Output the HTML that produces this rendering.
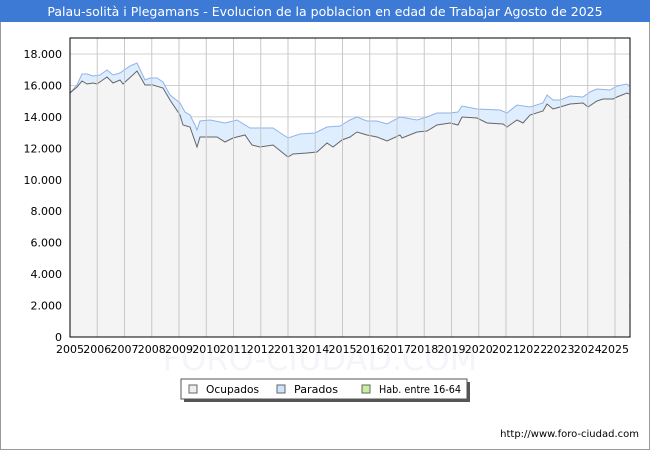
<!DOCTYPE html>
<html><head><meta charset="utf-8"><style>
body{margin:0;background:#fff}
svg{display:block;font-family:"DejaVu Sans","Liberation Sans",sans-serif}
</style></head><body>
<svg width="650" height="450" viewBox="0 0 650 450">
<rect x="0.5" y="0.5" width="649" height="449" fill="#fff" stroke="#999"/>
<rect x="0" y="0" width="650" height="22" fill="#3d7ad6"/>
<text x="325" y="16" text-anchor="middle" fill="#fff" font-size="12.5">Palau-solità i Plegamans - Evolucion de la poblacion en edad de Trabajar Agosto de 2025</text>
<text x="320" y="370" text-anchor="middle" fill="#f4f5fa" font-size="32">FORO-CIUDAD.COM</text>
<g id="grid" stroke="#d0d0d0" stroke-width="1"></g>
<polygon id="occ" fill="#f4f4f4"/>
<polygon id="par" fill="#dfeeff"/>
<polyline id="top" fill="none" stroke="#8fb3ea" stroke-width="1"/>
<polyline id="bot" fill="none" stroke="#666" stroke-width="1"/>
<g id="vg" stroke="#c8c8c8"></g>
<rect x="70" y="38" width="560" height="299" fill="none" stroke="#000"/>
<g id="yl" font-size="11" text-anchor="end"></g>
<g id="xl" font-size="11" text-anchor="middle"></g>
<rect x="184" y="382" width="286" height="20" fill="#555"/>
<rect x="181" y="379" width="286" height="20" fill="#fff" stroke="#555"/>
<rect x="189" y="385" width="8" height="8" fill="#eee" stroke="#666"/>
<text x="206" y="393" font-size="10.5" textLength="53" lengthAdjust="spacingAndGlyphs">Ocupados</text>
<rect x="277" y="385" width="8" height="8" fill="#cfe3ff" stroke="#666"/>
<text x="294" y="393" font-size="10.5" textLength="44" lengthAdjust="spacingAndGlyphs">Parados</text>
<rect x="362" y="385" width="8" height="8" fill="#c6f0a0" stroke="#666"/>
<text x="379" y="393" font-size="10.5" textLength="82" lengthAdjust="spacingAndGlyphs">Hab. entre 16-64</text>
<text x="639" y="437" text-anchor="end" font-size="10">http://www.foro-ciudad.com</text>
</svg>
<script>
var B=[[70,93],[77,87],[82,81],[87,84],[93,83],[97,84],[107,77],[113,83],[120,80],[123,84],[137,71],[145,85],[153,85],[163,88],[170,100],[180,115],[183,125],[190,127],[197,147],[200,137],[217,137],[225,142],[233,138],[245,135],[252,145],[260,147],[273,145],[288,157],[293,154],[307,153],[317,152],[327,143],[333,147],[342,140],[350,137],[357,132],[367,135],[377,137],[387,141],[400,135],[402,138],[417,132],[427,131],[437,125],[450,123],[458,125],[462,117],[477,118],[487,123],[503,124],[507,127],[517,120],[523,123],[530,115],[543,111],[547,104],[553,109],[560,107],[570,104],[583,103],[588,107],[597,101],[603,99],[613,99],[617,97],[627,93],[629,94]];
var T=[[70,93],[77,85],[82,74],[87,74],[93,76],[100,75],[107,70],[113,75],[120,73],[130,66],[137,63],[145,80],[150,78],[157,78],[163,82],[170,95],[180,103],[185,112],[190,115],[195,125],[197,130],[200,121],[210,120],[225,123],[237,120],[250,128],[260,128],[273,128],[288,138],[300,134],[315,133],[327,127],[340,126],[350,120],[357,117],[367,121],[377,121],[387,124],[400,117],[417,120],[427,117],[437,113],[450,113],[458,112],[462,106],[477,109],[500,110],[507,113],[517,105],[530,107],[543,103],[547,95],[553,100],[560,100],[570,96],[583,97],[590,92],[597,89],[610,90],[617,86],[627,84],[629,86]];
function s(a){return a.map(function(p){return p[0]+","+p[1]}).join(" ")}
document.getElementById('occ').setAttribute('points',s(B)+" 629,337 70,337");
document.getElementById('par').setAttribute('points',s(T)+" "+s(B.slice().reverse()));
document.getElementById('top').setAttribute('points',s(T));
document.getElementById('bot').setAttribute('points',s(B));
var ns="http://www.w3.org/2000/svg",g=document.getElementById('grid'),vg=document.getElementById('vg'),yl=document.getElementById('yl'),xl=document.getElementById('xl');
for(var i=0;i<=9;i++){var y=337-i*2000*283/18000;
 if(i>0){var l=document.createElementNS(ns,'line');l.setAttribute('x1',70);l.setAttribute('x2',630);l.setAttribute('y1',y);l.setAttribute('y2',y);g.appendChild(l);}
 var t=document.createElementNS(ns,'text');t.setAttribute('x',62);t.setAttribute('y',y+4);t.textContent=i==0?"0":(i*2)+".000";yl.appendChild(t);}
for(var k=0;k<=20;k++){var x=70+k*27.25;
 if(k>0){var l=document.createElementNS(ns,'line');l.setAttribute('x1',x);l.setAttribute('x2',x);l.setAttribute('y1',38);l.setAttribute('y2',337);vg.appendChild(l);}
 var t=document.createElementNS(ns,'text');t.setAttribute('x',x);t.setAttribute('y',353);t.textContent=2005+k;xl.appendChild(t);}
</script>
</body></html>
